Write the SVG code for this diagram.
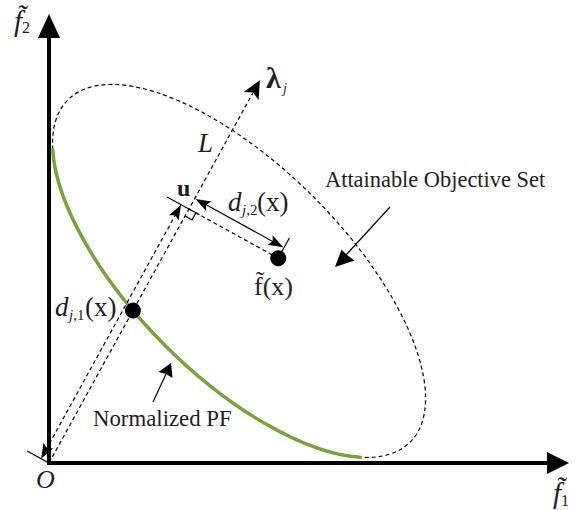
<svg xmlns="http://www.w3.org/2000/svg" width="585" height="510" viewBox="0 0 585 510">
<style>
.ax{stroke:#000;stroke-width:4;fill:none}
.dash{stroke:#000;stroke-width:1.2;fill:none;stroke-dasharray:4 3}
.thin{stroke:#000;stroke-width:1.2;fill:none}
.head{fill:#000;stroke:none}
.pf{stroke:#78a23a;stroke-width:3.5;fill:none;stroke-linecap:round}
.t{font-family:"Liberation Serif","Times New Roman",serif;fill:#1e1e1e}
.it{font-style:italic}
.bd{font-weight:bold}
</style>
<rect width="585" height="510" fill="#fff"/>
<g id="axes">
<path class="ax" d="M49,465 L49,36"/>
<polygon class="head" points="49,14 60,38 38,38"/>
<path class="ax" d="M47,463 L548,463"/>
<polygon class="head" points="569,463 547,474 547,452"/>
</g>
<g id="attainable-set">
<path class="dash" d="M52.7,149.7 A242,105 45 1 1 360.3,457.3"/>
</g>
<g id="normalized-pf">
<path class="pf" d="M52.7,149.7 A242,105 45 0 0 360.3,457.3"/>
</g>
<g id="connectors" transform="translate(49,463) rotate(-61.15)">
<path class="dash" d="M0,0 L422,0"/>
<polygon class="head" points="437,0 419,8.5 423,0 419,-8.5"/>
<path class="thin" d="M282,0 L282,8 L290,8"/>
<path class="dash" d="M290,0 L290,102"/>
<path class="dash" d="M10,-9 L280,-9"/>
<polygon class="head" points="0,-9 15,-14.5 12,-9 15,-3.5"/>
<polygon class="head" points="290,-9 275,-14.5 278,-9 275,-3.5"/>
<path class="thin" d="M0,2 L0,-25"/>
<path class="thin" d="M290,12 L290,-25"/>
<path class="thin" d="M302,12 L302,90"/>
<polygon class="head" points="302,1 307.5,16 302,13 296.5,16"/>
<polygon class="head" points="302,101 307.5,86 302,89 296.5,86"/>
<path class="thin" d="M297,102 L313,102"/>
<circle id="pf-point" cx="174" cy="0" r="8" fill="#000"/>
<circle id="fx-point" cx="290" cy="102" r="8" fill="#000"/>
</g>
<g id="pointers">
<path class="thin" d="M390,207 L346,255"/>
<polygon class="head" points="335,267 341.5,249.5 347,255 354.5,260.5"/>
<path class="thin" d="M153,402 L166,374"/>
<polygon class="head" points="171,363 172.5,378 166,374 158.5,372"/>
</g>
<g id="labels">
<text class="t" x="14" y="31" font-size="29"><tspan font-style="italic">f̃</tspan><tspan font-size="16" dy="2">2</tspan></text>
<text class="t" x="553" y="503" font-size="29"><tspan font-style="italic">f̃</tspan><tspan font-size="16" dy="3">1</tspan></text>
<text class="t it" x="36" y="488" font-size="26">O</text>
<text class="t it" x="198" y="152" font-size="27">L</text>
<text class="t bd" x="266" y="88" font-size="30">λ</text>
<text class="t it" x="283" y="93" font-size="14">j</text>
<text class="t bd" x="177" y="196" font-size="24">u</text>
<text class="t it" x="228" y="211" font-size="27">d</text>
<text class="t" x="242" y="215" font-size="15"><tspan font-style="italic">j</tspan>,2</text>
<text class="t" x="257" y="211" font-size="27">(x)</text>
<text class="t it" x="55" y="316" font-size="27">d</text>
<text class="t" x="69" y="320" font-size="15"><tspan font-style="italic">j</tspan>,1</text>
<text class="t" x="85" y="316" font-size="27">(x)</text>
<text class="t" x="254" y="295" font-size="26">f̃(x)</text>
<text class="t" x="325" y="187" font-size="22.4">Attainable Objective Set</text>
<text class="t" x="93" y="426" font-size="22.8">Normalized PF</text>
</g>
</svg>
